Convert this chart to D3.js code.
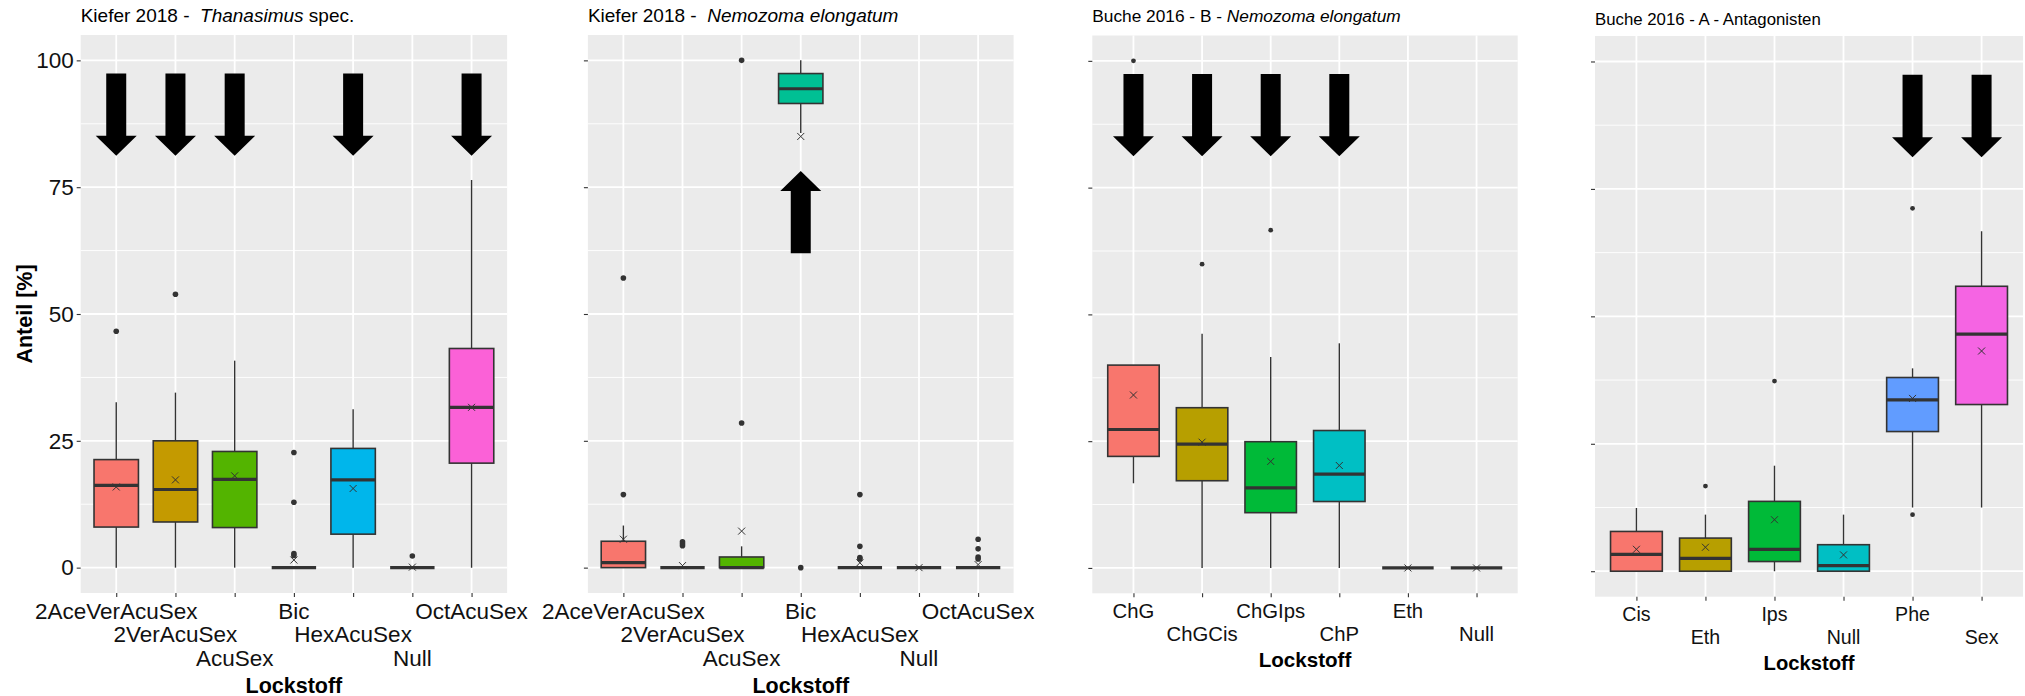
<!DOCTYPE html>
<html><head><meta charset="utf-8">
<script src="https://cdn.jsdelivr.net/npm/d3@7"></script>
<style>body{margin:0;background:#fff;} svg{display:block;font-family:"Liberation Sans",Arial,sans-serif;}</style>
</head><body><svg id="c" width="2025" height="696"></svg>
<script>
// ---------- DATA ----------
const yTicks = [0, 25, 50, 75, 100];
const yMinor = [12.5, 37.5, 62.5, 87.5];
const yLabelTitle = "Anteil [%]";
const xLabelTitle = "Lockstoff";

const pal7 = ["#F8766D", "#C49A00", "#53B400", "#00C094", "#00B6EB", "#A58AFF", "#FB61D7"];
const pal6 = ["#F8766D", "#B79F00", "#00BA38", "#00BFC4", "#619CFF", "#F564E3"];

// Panel 1: Kiefer 2018 - Thanasimus spec.
const title1 = ["Kiefer 2018 -  ", "Thanasimus", " spec."];
const cats1 = ["2AceVerAcuSex", "2VerAcuSex", "AcuSex", "Bic", "HexAcuSex", "Null", "OctAcuSex"];
const lo1 = [0, 0, 0, 0, 0, 0, 0];
const q1_1 = [8.0, 9.0, 7.9, 0, 6.6, 0, 20.6];
const med1 = [16.2, 15.4, 17.4, 0, 17.3, 0, 31.6];
const q3_1 = [21.3, 25.0, 22.9, 0, 23.5, 0, 43.2];
const hi1 = [32.6, 34.5, 40.8, 0, 31.2, 0, 76.4];
const mean1 = [15.9, 17.3, 18.1, 1.5, 15.6, 0.1, 31.6];
const out1 = [[46.6], [53.9], [], [22.7, 12.9, 2.8, 2.4], [], [2.3], []];
const arrowCats1 = ["2AceVerAcuSex", "2VerAcuSex", "AcuSex", "HexAcuSex", "OctAcuSex"];
const arrowFrom1 = [97.4, 97.4, 97.4, 97.4, 97.4];
const arrowTo1 = [81.2, 81.2, 81.2, 81.2, 81.2];

// Panel 2: Kiefer 2018 - Nemozoma elongatum
const title2 = ["Kiefer 2018 -  ", "Nemozoma elongatum", ""];
const cats2 = ["2AceVerAcuSex", "2VerAcuSex", "AcuSex", "Bic", "HexAcuSex", "Null", "OctAcuSex"];
const lo2 = [0, 0, 0, 85.7, 0, 0, 0];
const q1_2 = [0, 0, 0, 91.5, 0, 0, 0];
const med2 = [1.0, 0, 0, 94.4, 0, 0, 0];
const q3_2 = [5.2, 0, 2.1, 97.4, 0, 0, 0];
const hi2 = [8.3, 0, 4.2, 100, 0, 0, 0];
const mean2 = [5.6, 0.4, 7.2, 85.0, 0.95, 0, 0.6];
const out2 = [[14.4, 57.1], [5.1, 4.7, 4.3], [28.5, 100], [0], [14.4, 4.2, 2.0, 1.7], [], [5.6, 3.7, 2.1, 1.7]];
const arrowCats2 = ["Bic"];
const arrowFrom2 = [62.0];
const arrowTo2 = [78.2];

// Panel 3: Buche 2016 - B - Nemozoma elongatum
const title3 = ["Buche 2016 - B - ", "Nemozoma elongatum", ""];
const cats3 = ["ChG", "ChGCis", "ChGIps", "ChP", "Eth", "Null"];
const lo3 = [16.7, 0, 0, 0, 0, 0];
const q1_3 = [22.0, 17.2, 10.9, 13.1, 0, 0];
const med3 = [27.3, 24.4, 15.8, 18.5, 0, 0];
const q3_3 = [40.0, 31.6, 24.9, 27.1, 0, 0];
const hi3 = [40.0, 46.2, 41.6, 44.3, 0, 0];
const mean3 = [34.1, 24.8, 21.0, 20.2, 0, 0];
const out3 = [[100], [59.9], [66.6], [], [], []];
const arrowCats3 = ["ChG", "ChGCis", "ChGIps", "ChP"];
const arrowFrom3 = [97.4, 97.4, 97.4, 97.4];
const arrowTo3 = [81.2, 81.2, 81.2, 81.2];

// Panel 4: Buche 2016 - A - Antagonisten
const title4 = ["Buche 2016 - A - Antagonisten", "", ""];
const cats4 = ["Cis", "Eth", "Ips", "Null", "Phe", "Sex"];
const lo4 = [0, 0, 0, 0, 12.5, 12.5];
const q1_4 = [0, 0, 1.9, 0, 27.4, 32.7];
const med4 = [3.3, 2.5, 4.3, 1.1, 33.6, 46.5];
const q3_4 = [7.8, 6.5, 13.7, 5.2, 38.0, 55.9];
const hi4 = [12.4, 11.1, 20.7, 11.1, 39.8, 66.7];
const mean4 = [4.3, 4.7, 10.1, 3.2, 33.9, 43.2];
const out4 = [[], [16.7], [37.3], [], [71.2, 11.1], []];
const arrowCats4 = ["Phe", "Sex"];
const arrowFrom4 = [97.4, 97.4];
const arrowTo4 = [81.2, 81.2];

// ---------- LAYOUT ----------
const panels = [
  {title: title1, cats: cats1, lo: lo1, q1: q1_1, med: med1, q3: q3_1, hi: hi1, mean: mean1, out: out1,
   aC: arrowCats1, aF: arrowFrom1, aT: arrowTo1, pal: pal7,
   L: {x0: 80.7, x1: 507.1, y0: 35, y1: 593, titleY: 21.5, titleFs: 19, tickFs: 22.5, row0: 618.7, rowH: 23.7, dodge: 3,
       axT: 692.5, axFs: 21.5, ylab: true, r: 2.8}},
  {title: title2, cats: cats2, lo: lo2, q1: q1_2, med: med2, q3: q3_2, hi: hi2, mean: mean2, out: out2,
   aC: arrowCats2, aF: arrowFrom2, aT: arrowTo2, pal: pal7,
   L: {x0: 587.9, x1: 1013.6, y0: 35, y1: 593, titleY: 21.5, titleFs: 19, tickFs: 22.5, row0: 618.7, rowH: 23.7, dodge: 3,
       axT: 692.5, axFs: 21.5, ylab: false, r: 2.8}},
  {title: title3, cats: cats3, lo: lo3, q1: q1_3, med: med3, q3: q3_3, hi: hi3, mean: mean3, out: out3,
   aC: arrowCats3, aF: arrowFrom3, aT: arrowTo3, pal: pal6,
   L: {x0: 1092.3, x1: 1517.7, y0: 35.5, y1: 593.3, titleY: 22.3, titleFs: 17.3, tickFs: 20.3, row0: 617.5, rowH: 23.5, dodge: 2,
       axT: 666.7, axFs: 20.6, ylab: false, r: 2.4}},
  {title: title4, cats: cats4, lo: lo4, q1: q1_4, med: med4, q3: q3_4, hi: hi4, mean: mean4, out: out4,
   aC: arrowCats4, aF: arrowFrom4, aT: arrowTo4, pal: pal6,
   L: {x0: 1595, x1: 2023, y0: 36, y1: 596.7, titleY: 25, titleFs: 16.8, tickFs: 19.6, row0: 621, rowH: 23, dodge: 2,
       axT: 670, axFs: 20.2, ylab: false, r: 2.4}}
];

const svg = d3.select("#c");
const ink = "#333333";

panels.forEach(p => {
  const L = p.L;
  const g = svg.append("g");
  const x = d3.scalePoint().domain(p.cats).range([L.x0, L.x1]).padding(0.6);
  const y = d3.scaleLinear().domain([-5, 105]).range([L.y1, L.y0]);
  const bw = x.step() * 0.75;

  // panel background
  g.append("rect").attr("x", L.x0).attr("y", L.y0).attr("width", L.x1 - L.x0).attr("height", L.y1 - L.y0).attr("fill", "#EBEBEB");
  // minor grid
  g.selectAll(".mn").data(yMinor).enter().append("line")
    .attr("x1", L.x0).attr("x2", L.x1).attr("y1", d => y(d)).attr("y2", d => y(d))
    .attr("stroke", "#fff").attr("stroke-width", 0.9);
  // major grid
  g.selectAll(".mj").data(yTicks).enter().append("line")
    .attr("x1", L.x0).attr("x2", L.x1).attr("y1", d => y(d)).attr("y2", d => y(d))
    .attr("stroke", "#fff").attr("stroke-width", 1.8);
  g.selectAll(".mv").data(p.cats).enter().append("line")
    .attr("x1", d => x(d)).attr("x2", d => x(d)).attr("y1", L.y0).attr("y2", L.y1)
    .attr("stroke", "#fff").attr("stroke-width", 1.8);

  // arrows
  p.aC.forEach((c, i) => {
    const cx = x(c), yf = y(p.aF[i]), yt = y(p.aT[i]);
    const dir = Math.sign(yt - yf), hl = 20, sw = 20, hw = 41;
    const yb = yt - dir * hl;
    const pts = [[cx - sw / 2, yf], [cx + sw / 2, yf], [cx + sw / 2, yb], [cx + hw / 2, yb], [cx, yt], [cx - hw / 2, yb], [cx - sw / 2, yb]];
    g.append("path").attr("d", d3.line()(pts) + "Z").attr("fill", "#000");
  });

  // boxes
  p.cats.forEach((c, i) => {
    const cx = x(c);
    g.append("line").attr("x1", cx).attr("x2", cx).attr("y1", y(p.lo[i])).attr("y2", y(p.hi[i]))
      .attr("stroke", ink).attr("stroke-width", 1.4);
    g.append("rect").attr("x", cx - bw / 2).attr("y", y(p.q3[i])).attr("width", bw)
      .attr("height", Math.max(0, y(p.q1[i]) - y(p.q3[i])))
      .attr("fill", p.pal[i]).attr("stroke", ink).attr("stroke-width", 1.6);
    g.append("line").attr("x1", cx - bw / 2).attr("x2", cx + bw / 2).attr("y1", y(p.med[i])).attr("y2", y(p.med[i]))
      .attr("stroke", ink).attr("stroke-width", 3.2);
    p.out[i].forEach(v => {
      g.append("circle").attr("cx", cx).attr("cy", y(v)).attr("r", L.r).attr("fill", ink);
    });
    const my = y(p.mean[i]);
    g.append("path").attr("d", `M${cx - 3.5},${my - 3.5}L${cx + 3.5},${my + 3.5}M${cx - 3.5},${my + 3.5}L${cx + 3.5},${my - 3.5}`)
      .attr("stroke", ink).attr("stroke-width", 1).attr("fill", "none");
  });

  // y axis
  const ya = g.append("g").attr("transform", `translate(${L.x0},0)`)
    .call(d3.axisLeft(y).tickValues(yTicks).tickSize(4).tickPadding(3).tickFormat(L.ylab ? d3.format("d") : () => ""));
  ya.select(".domain").remove();
  ya.selectAll("line").attr("stroke", ink).attr("stroke-width", 1.1);
  ya.selectAll("text").attr("font-size", 22.5).attr("fill", "#111").attr("font-family", "Liberation Sans, Arial, sans-serif");

  // x axis
  const xa = g.append("g").attr("transform", `translate(0,${L.y1})`)
    .call(d3.axisBottom(x).tickSize(4).tickFormat(() => ""));
  xa.select(".domain").remove();
  xa.selectAll("line").attr("stroke", ink).attr("stroke-width", 1.1);
  p.cats.forEach((c, i) => {
    g.append("text").attr("x", x(c)).attr("y", L.row0 + (i % L.dodge) * L.rowH)
      .attr("text-anchor", "middle").attr("font-size", L.tickFs).attr("fill", "#111").text(c);
  });
  g.append("text").attr("x", (L.x0 + L.x1) / 2).attr("y", L.axT).attr("text-anchor", "middle")
    .attr("font-size", L.axFs).attr("font-weight", "bold").attr("fill", "#000").text(xLabelTitle);

  // title
  const t = g.append("text").attr("x", L.x0).attr("y", L.titleY).attr("font-size", L.titleFs).attr("fill", "#000")
    .style("white-space", "pre");
  t.append("tspan").text(p.title[0]);
  if (p.title[1]) t.append("tspan").attr("font-style", "italic").text(p.title[1]);
  if (p.title[2]) t.append("tspan").text(p.title[2]);

  if (L.ylab) {
    g.append("text").attr("transform", `translate(32.3,${(L.y0 + L.y1) / 2}) rotate(-90)`)
      .attr("text-anchor", "middle").attr("font-size", 21.5).attr("font-weight", "bold").attr("fill", "#000").text(yLabelTitle);
  }
});
</script></body></html>
